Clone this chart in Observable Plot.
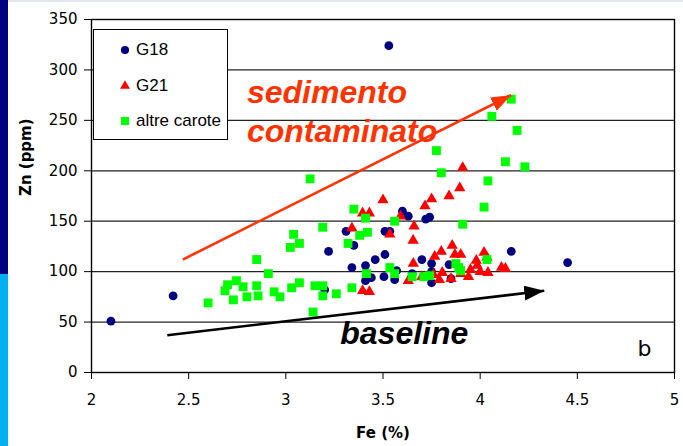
<!DOCTYPE html>
<html><head><meta charset="utf-8">
<script src="https://cdn.jsdelivr.net/npm/d3@7"></script>
<script src="https://cdn.jsdelivr.net/npm/@observablehq/plot@0.6"></script>
<style>
body{margin:0;background:#fff;}
#wrap{position:relative;width:683px;height:446px;overflow:hidden;background:#fff;}
#chart{position:absolute;left:0;top:0;}
.deco{position:absolute;}
#legend{position:absolute;left:93px;top:29px;width:133px;height:109px;border:1.3px solid #000;background:#fff;font-family:"Liberation Sans",Arial,sans-serif;font-size:17px;color:#000;}
#legend .item{position:absolute;left:0;height:20px;line-height:20px;}
#legend svg{position:absolute;left:24px;top:3px;}
#legend span{position:absolute;left:42px;white-space:nowrap;}
</style></head><body>
<div id="wrap">
  <div class="deco" style="left:0;top:0;width:683px;height:2px;background:#e4e4f0"></div>
  <div class="deco" style="left:0;top:0;width:8px;height:274px;background:#000080"></div>
  <div class="deco" style="left:0;top:274px;width:8px;height:172px;background:#00b0f0"></div>
  <div id="chart"></div>
  <div id="legend"></div>
</div>
<script>
// ---- data (Fe %, Zn ppm) ----
const g18Fe = [2.10,2.42,3.20,3.22,3.31,3.35,3.34,3.41,3.41,3.44,3.46,3.51,3.51,3.535,3.505,3.53,3.56,3.57,3.60,3.63,3.65,3.70,3.72,3.74,3.75,3.75,3.75,3.84,3.85,4.16,4.45];
const g18Zn = [51,76,82,120,140,126,104,106,91,94,112,117,140,140,95,324,92,101,160,155,98,112,152,154,108,100,89,107,93,120,109];
const g21Fe = [3.34,3.395,3.43,3.395,3.43,3.50,3.535,3.59,3.63,3.655,3.656,3.66,3.70,3.716,3.75,3.76,3.766,3.79,3.80,3.805,3.84,3.85,3.856,3.87,3.895,3.90,3.90,3.91,3.94,3.95,3.98,3.985,4.00,4.02,4.035,4.04,4.11,4.13];
const g21Zn = [143,158,158,81,80,171,137,155,91,131,108,145,95,165,172,97,115,92,120,99,175,93,126,117,183,117,98,203,95,102,111,106,100,119,114,99,104,103];
const altreFe = [2.60,2.687,2.70,2.73,2.746,2.78,2.80,2.85,2.85,2.857,2.91,2.94,2.97,3.023,3.03,3.04,3.07,3.07,3.125,3.14,3.15,3.19,3.19,3.19,3.26,3.32,3.34,3.35,3.38,3.41,3.415,3.42,3.535,3.56,3.56,3.65,3.71,3.74,3.775,3.80,3.875,3.89,3.90,3.91,4.02,4.035,4.04,4.06,4.13,4.16,4.19,4.23];
const altreZn = [69,81,87,72,91,85,75,112,86,76,98,80,75,124,84,137,128,89,192,60,86,144,86,76,78,128,84,162,136,153,98,139,104,150,98,95,95,96,220,198,108,104,101,147,164,112,190,254,209,271,240,204];

const seriesNames = ["G18", "G21", "altre carote"];
const seriesColors = ["#000080", "#ff0000", "#00ff00"];
const seriesSymbols = ["circle", "triangle", "square"];

const xTicks = [2, 2.5, 3, 3.5, 4, 4.5, 5];
const yTicks = [0, 50, 100, 150, 200, 250, 300, 350];
const gridZn = [50, 100, 150, 200, 250, 300];

// trend arrows (Fe, Zn)
const contamArrow = [{x1: 2.47, y1: 112, x2: 4.16, y2: 275}];
const baseArrow = [{x1: 2.39, y1: 37, x2: 4.33, y2: 81}];
// annotations
const contamLabels = [{x: 2.80, y: 277, t: "sedimento"}, {x: 2.80, y: 239, t: "contaminato"}];
const baseLabel = [{x: 3.28, y: 38, t: "baseline"}];
const panelLabel = [{x: 4.81, y: 23, t: "b"}];

const toRows = (fe, zn) => fe.map((v, i) => ({fe: v, zn: zn[i]}));
const g18 = toRows(g18Fe, g18Zn), g21 = toRows(g21Fe, g21Zn), altre = toRows(altreFe, altreZn);

function filledHead(len, wid) {
  return (color, context) => {
    const doc = (context && context.document) || document;
    const m = doc.createElementNS("http://www.w3.org/2000/svg", "marker");
    m.setAttribute("viewBox", `${-len} ${-wid/2} ${len} ${wid}`);
    m.setAttribute("markerWidth", len);
    m.setAttribute("markerHeight", wid);
    m.setAttribute("markerUnits", "userSpaceOnUse");
    m.setAttribute("refX", 0);
    m.setAttribute("refY", 0);
    m.setAttribute("orient", "auto");
    const p = doc.createElementNS("http://www.w3.org/2000/svg", "path");
    p.setAttribute("d", `M${-len},${-wid/2}L0,0L${-len},${wid/2}Z`);
    p.setAttribute("fill", color);
    p.setAttribute("stroke", "none");
    m.appendChild(p);
    return m;
  };
}

const bi = {fontWeight: "bold", fontStyle: "italic", fontFamily: "'Liberation Sans', Arial, sans-serif", textAnchor: "start"};

const plot = Plot.plot({
  width: 683, height: 446,
  marginLeft: 91, marginRight: 9, marginTop: 19, marginBottom: 74,
  style: {fontFamily: "'DejaVu Sans', Verdana, sans-serif", fontSize: "15px", color: "#000", background: "transparent", overflow: "visible"},
  x: {domain: [2, 5], ticks: xTicks, tickFormat: d => String(d), tickSize: 7, tickPadding: 15, label: null},
  y: {domain: [0, 350], ticks: yTicks, tickFormat: d => String(d), tickSize: 7, tickPadding: 7, label: null},
  marks: [
    Plot.ruleY(gridZn, {stroke: "#222", strokeWidth: 1.3}),
    Plot.frame({stroke: "#000", strokeWidth: 1.4}),
    Plot.dot(g18, {x: "fe", y: "zn", r: 4.4, fill: seriesColors[0], symbol: seriesSymbols[0]}),
    Plot.dot(g21, {x: "fe", y: "zn", r: 4.2, fill: seriesColors[1], symbol: seriesSymbols[1]}),
    Plot.dot(altre, {x: "fe", y: "zn", r: 5.0, fill: seriesColors[2], symbol: seriesSymbols[2]}),
    Plot.link(contamArrow, {x1: "x1", y1: "y1", x2: "x2", y2: "y2", stroke: "#ff3300", strokeWidth: 2.6, markerEnd: filledHead(20, 15)}),
    Plot.link(baseArrow, {x1: "x1", y1: "y1", x2: "x2", y2: "y2", stroke: "#000", strokeWidth: 2.6, markerEnd: filledHead(20, 15)}),
    Plot.text(contamLabels, {x: "x", y: "y", text: "t", fill: "#ff3300", fontSize: 32, ...bi}),
    Plot.text(baseLabel, {x: "x", y: "y", text: "t", fill: "#000", fontSize: 32, ...bi}),
    Plot.text(panelLabel, {x: "x", y: "y", text: "t", fill: "#000", fontSize: 22, textAnchor: "start", fontFamily: "'DejaVu Sans', Verdana, sans-serif"}),
    Plot.text(["Zn (ppm)"], {frameAnchor: "left", dx: -65, rotate: -90, fontWeight: "bold", fontSize: 15, fill: "#000"}),
    Plot.text(["Fe (%)"], {frameAnchor: "bottom", dy: 65, fontWeight: "bold", fontSize: 15, fill: "#000"})
  ]
});
document.getElementById("chart").appendChild(plot);

// legend
const legend = document.getElementById("legend");
const rowTops = [10, 46, 81];
seriesNames.forEach((name, i) => {
  const item = document.createElement("div");
  item.className = "item";
  item.style.top = rowTops[i] + "px";
  const sym = d3.symbol().type(i === 0 ? d3.symbolCircle : i === 1 ? d3.symbolTriangle : d3.symbolSquare).size(i === 0 ? 52 : i === 1 ? 42 : 64)();
  item.innerHTML = `<svg width="14" height="14" viewBox="-7 -7 14 14"><path d="${sym}" fill="${seriesColors[i]}"/></svg><span>${name}</span>`;
  legend.appendChild(item);
});
</script>
</body></html>
